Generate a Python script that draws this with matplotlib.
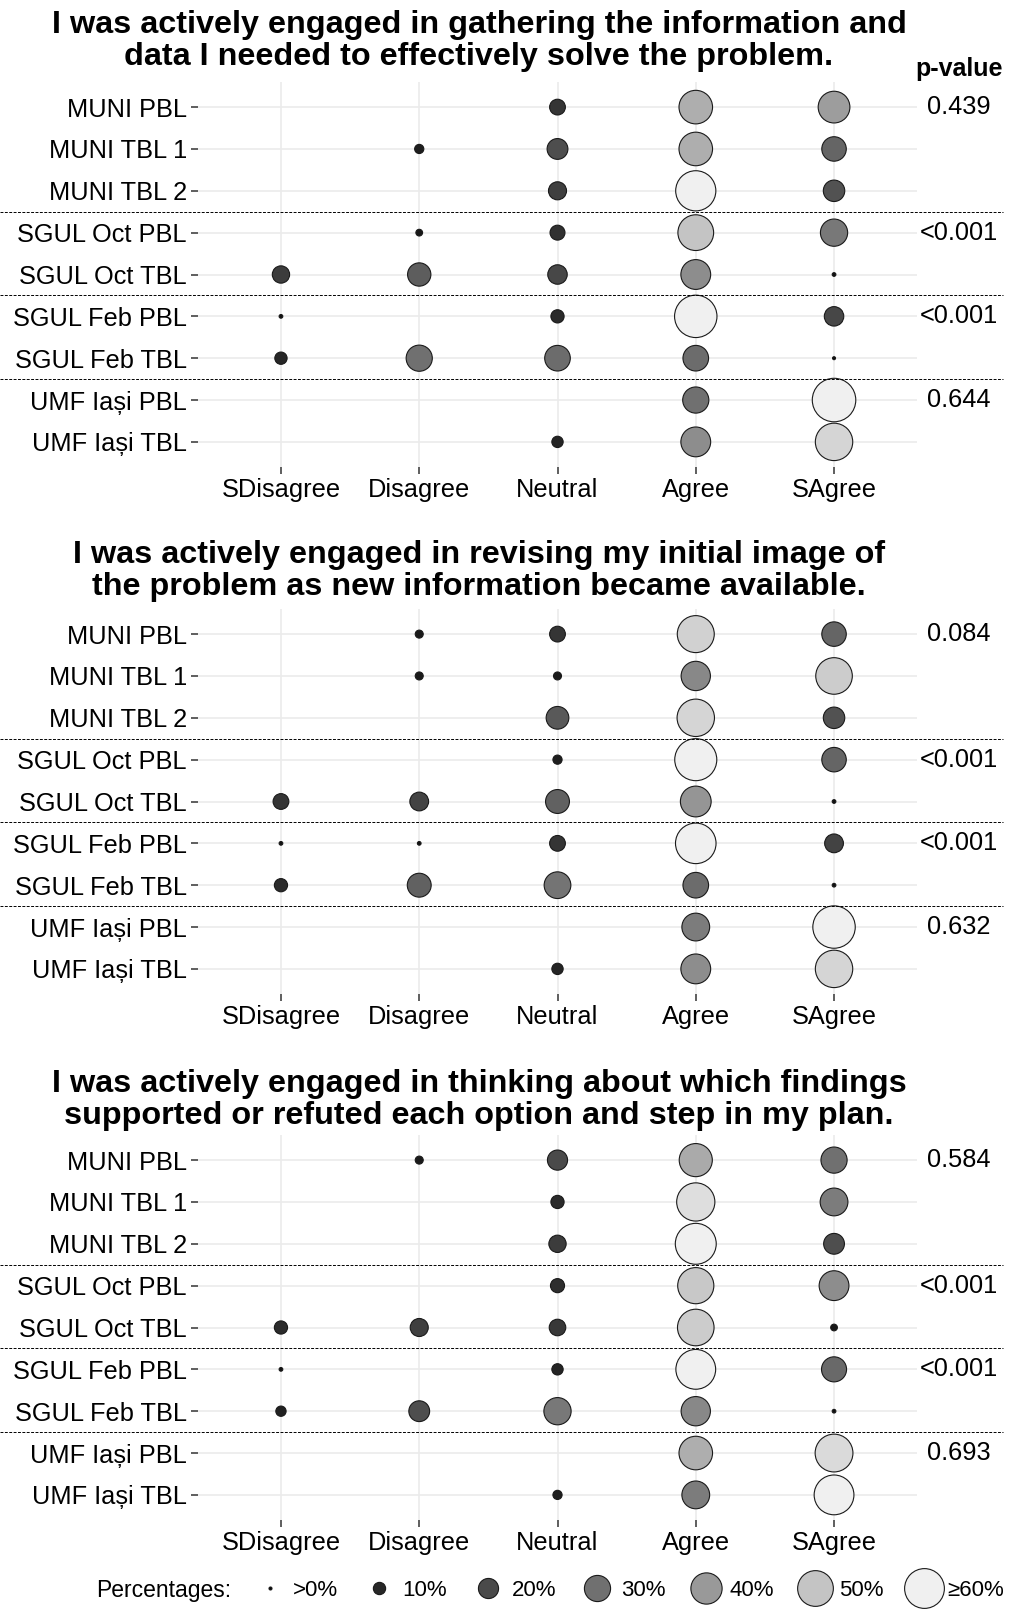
import numpy as np
import matplotlib
matplotlib.use("Agg")
import matplotlib.pyplot as plt
from matplotlib.lines import Line2D
from matplotlib.transforms import blended_transform_factory

plt.rcParams['font.family'] = ['Liberation Sans', 'DejaVu Sans']

# ---- data -------------------------------------------------------------
responses = ["SDisagree", "Disagree", "Neutral", "Agree", "SAgree"]
groups = ["MUNI PBL", "MUNI TBL 1", "MUNI TBL 2",
          "SGUL Oct PBL", "SGUL Oct TBL",
          "SGUL Feb PBL", "SGUL Feb TBL",
          "UMF Iași PBL", "UMF Iași TBL"]
cohort_sizes = [3, 2, 2, 2]

titles = [
    "I was actively engaged in gathering the information and\n"
    "data I needed to effectively solve the problem.",
    "I was actively engaged in revising my initial image of\n"
    "the problem as new information became available.",
    "I was actively engaged in thinking about which findings\n"
    "supported or refuted each option and step in my plan.",
]

# percentage of answers, rows = groups, columns = responses (0 = nobody)
q1_pct = [
    [0, 0, 14, 45, 41],
    [0, 7, 21, 45, 27],
    [0, 0, 17, 61, 22],
    [0, 5, 13, 50, 32],
    [16, 25, 19, 37, 3],
    [3, 0, 11, 67, 19],
    [10, 30, 29, 29, 2],
    [0, 0, 0, 30, 70],
    [0, 0, 9, 37, 54],
]
q2_pct = [
    [0, 6, 14, 53, 27],
    [0, 6, 6, 36, 52],
    [0, 0, 24, 54, 22],
    [0, 0, 7, 66, 27],
    [14, 18, 26, 39, 3],
    [3, 3, 14, 62, 18],
    [11, 26, 31, 29, 3],
    [0, 0, 0, 33, 67],
    [0, 0, 9, 37, 54],
]
q3_pct = [
    [0, 6, 20, 44, 30],
    [0, 0, 11, 56, 33],
    [0, 0, 16, 63, 21],
    [0, 0, 12, 51, 37],
    [11, 17, 15, 52, 5],
    [3, 0, 9, 60, 28],
    [8, 21, 32, 36, 3],
    [0, 0, 0, 45, 55],
    [0, 0, 7, 33, 60],
]
p_values = [
    ["0.439", "<0.001", "<0.001", "0.644"],
    ["0.084", "<0.001", "<0.001", "0.632"],
    ["0.584", "<0.001", "<0.001", "0.693"],
]

legend_pct = [1, 10, 20, 30, 40, 50, 60]
legend_labels = [">0%", "10%", "20%", "30%", "40%", "50%", "≥60%"]

panels = [q1_pct, q2_pct, q3_pct]

# ---- scales -----------------------------------------------------------
DPI = 100


def diameter_pt(p):
    d_px = np.maximum(6.0 * np.sqrt(np.asarray(p, float)) - 6.7, 3.0)
    return d_px * 72.0 / DPI


def fill_color(p):
    # black -> grey94 gradient in Lab lightness, capped at 60 %
    L = 94.8 * min(p, 60) / 60
    Y = ((L + 16) / 116) ** 3 if L > 8 else L / 903.3
    v = 12.92 * Y if Y <= 0.0031308 else 1.055 * Y ** (1 / 2.4) - 0.055
    return (v, v, v)


# ---- figure -----------------------------------------------------------
W, H = 1010, 1611
fig = plt.figure(figsize=(W / DPI, H / DPI), dpi=DPI)
fig.patch.set_facecolor("white")

panel_tops = [82, 609, 1135]
panel_h = 385
left, right = 198, 917
title_offsets = [41, 38, 35]

boundaries = np.cumsum(cohort_sizes)[:-1] + 0.5
first_rows = np.concatenate([[1], np.cumsum(cohort_sizes)[:-1] + 1])

for k, pct in enumerate(panels):
    top = panel_tops[k]
    ax = fig.add_axes([left / W, 1 - (top + panel_h) / H,
                       (right - left) / W, panel_h / H])
    arr = np.array(pct, float)
    rows, cols = np.nonzero(arr)
    vals = arr[rows, cols]
    ax.scatter(cols + 1, rows + 1, s=diameter_pt(vals) ** 2,
               c=[fill_color(v) for v in vals], edgecolors="#1a1a1a",
               linewidths=0.8, zorder=3, clip_on=False)

    ax.set_xlim(0.4, 5.6)
    ax.set_ylim(9.6, 0.4)
    ax.set_xticks(range(1, 6))
    ax.set_xticklabels(responses)
    ax.set_yticks(range(1, 10))
    ax.set_yticklabels(groups)
    ax.grid(True, color="#ebebeb", linewidth=1.2)
    ax.set_axisbelow(True)
    for s in ax.spines.values():
        s.set_visible(False)
    ax.tick_params(length=5, width=1.1, color="#333333", labelsize=18.3,
                   labelcolor="black", pad=3)

    trans = blended_transform_factory(fig.transFigure, ax.transData)
    for yb in boundaries:
        ax.plot([0, 1003 / W], [yb, yb], transform=trans, color="black",
                lw=0.7, ls=(0, (3, 1.5)), clip_on=False, zorder=4)
    for row, pv in zip(first_rows, p_values[k]):
        ax.text(959 / W, row, pv, transform=trans, ha="center",
                va="center", fontsize=18.3)

    fig.text(479 / W, 1 - (top - title_offsets[k]) / H, titles[k],
             ha="center", va="center", fontsize=23.3, fontweight="bold",
             linespacing=1.1)

fig.text(959 / W, 1 - 69 / H, "p-value", ha="center", va="center",
         fontsize=18, fontweight="bold")

# ---- legend -----------------------------------------------------------
handles = [Line2D([], [], marker="o", linestyle="", markersize=diameter_pt(v),
                  markerfacecolor=fill_color(v), markeredgecolor="#1a1a1a",
                  markeredgewidth=0.8) for v in legend_pct]
fig.legend(handles, legend_labels, loc="center left",
           bbox_to_anchor=(252 / W, 1 - 1590 / H), ncol=7, frameon=False,
           fontsize=16, handlelength=1.6, handletextpad=0.25,
           columnspacing=1.05, borderpad=0, borderaxespad=0)
fig.text(96 / W, 1 - 1590 / H, "Percentages:", ha="left", va="center",
         fontsize=16.5)

fig.savefig("out.png", dpi=DPI)
